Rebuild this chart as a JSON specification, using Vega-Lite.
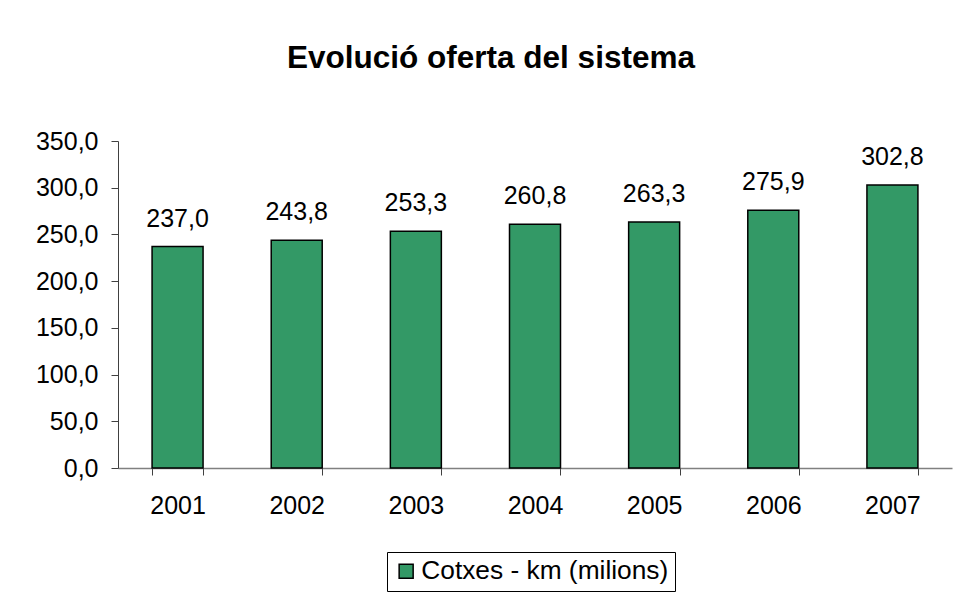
{
  "$schema": "https://vega.github.io/schema/vega-lite/v6.json",
  "autosize": {"type": "none"},
  "padding": {"left": 118, "top": 141, "right": 2, "bottom": 130},
  "width": 834,
  "height": 327,
  "background": "white",
  "title": {
    "text": "Evolució oferta del sistema",
    "font": "Liberation Sans",
    "fontSize": 31.5,
    "fontWeight": "bold",
    "color": "black",
    "anchor": "middle",
    "frame": "group",
    "dx": -44,
    "baseline": "alphabetic",
    "offset": 30
  },
  "data": {
    "values": [
      {"year": "2001", "value": 237.0, "series": "Cotxes - km (milions)"},
      {"year": "2002", "value": 243.8, "series": "Cotxes - km (milions)"},
      {"year": "2003", "value": 253.3, "series": "Cotxes - km (milions)"},
      {"year": "2004", "value": 260.8, "series": "Cotxes - km (milions)"},
      {"year": "2005", "value": 263.3, "series": "Cotxes - km (milions)"},
      {"year": "2006", "value": 275.9, "series": "Cotxes - km (milions)"},
      {"year": "2007", "value": 302.8, "series": "Cotxes - km (milions)"}
    ]
  },
  "encoding": {
    "x": {
      "field": "year",
      "type": "nominal",
      "scale": {"paddingInner": 0.572, "paddingOuter": 0.286},
      "axis": {
        "title": null,
        "labelAngle": 0,
        "labelFont": "Liberation Sans",
        "labelFontSize": 25,
        "labelColor": "black",
        "labelPadding": 18,
        "tickSize": 7,
        "tickBand": "extent",
        "tickColor": "#404040",
        "domainColor": "#808080",
        "domainWidth": 1.5,
        "grid": false
      }
    },
    "y": {
      "field": "value",
      "type": "quantitative",
      "scale": {"domain": [0, 350], "nice": false},
      "axis": {
        "title": null,
        "values": [0, 50, 100, 150, 200, 250, 300, 350],
        "format": ".1f",
        "labelFont": "Liberation Sans",
        "labelFontSize": 25,
        "labelColor": "black",
        "labelPadding": 13,
        "tickSize": 7,
        "tickColor": "#404040",
        "domainColor": "#404040",
        "grid": false
      }
    }
  },
  "layer": [
    {
      "mark": {"type": "bar", "stroke": "black", "strokeWidth": 1.5},
      "encoding": {
        "color": {
          "field": "series",
          "type": "nominal",
          "scale": {"range": ["#339966"]},
          "legend": {
            "title": null,
            "orient": "none",
            "legendX": 269,
            "legendY": 411,
            "strokeColor": "black",
            "fillColor": "white",
            "padding": 6,
            "symbolType": "square",
            "symbolSize": 196,
            "symbolStrokeColor": "black",
            "symbolStrokeWidth": 1.5,
            "symbolOpacity": 1,
            "labelFont": "Liberation Sans",
            "labelFontSize": 26.3,
            "labelColor": "black",
            "labelOffset": 2,
            "labelLimit": 400
          }
        }
      }
    },
    {
      "mark": {
        "type": "text",
        "font": "Liberation Sans",
        "fontSize": 25,
        "color": "black",
        "baseline": "alphabetic",
        "dy": -20
      },
      "encoding": {
        "text": {"field": "value", "type": "quantitative", "format": ".1f"}
      }
    }
  ],
  "config": {
    "view": {"stroke": null},
    "locale": {
      "number": {
        "decimal": ",",
        "thousands": ".",
        "grouping": [3],
        "currency": ["", " €"]
      }
    }
  }
}
